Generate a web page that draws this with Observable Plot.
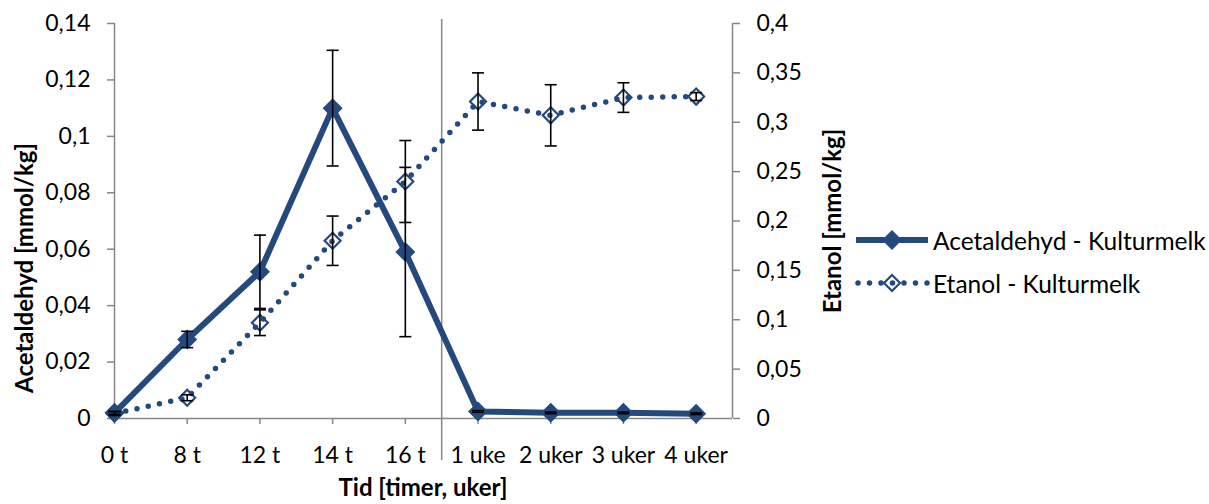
<!DOCTYPE html>
<html>
<head>
<meta charset="utf-8">
<script src="https://cdn.jsdelivr.net/npm/d3@7"></script>
<script src="https://cdn.jsdelivr.net/npm/@observablehq/plot@0.6"></script>
<style>
  html, body { margin: 0; padding: 0; background: #fff; }
  #chart { width: 1209px; height: 504px; overflow: hidden; }
  #chart svg { display: block; }
</style>
</head>
<body>
<div id="chart"></div>
<script>
// ---- data ----
const categories = ["0 t", "8 t", "12 t", "14 t", "16 t", "1 uke", "2 uker", "3 uker", "4 uker"];
const acetaldehyd    = [0.002, 0.028, 0.052, 0.110, 0.059, 0.0025, 0.002, 0.002, 0.0017];
const acetaldehydErr = [0.0005, 0.0029, 0.013, 0.0205, 0.030, 0.0003, 0.0003, 0.0003, 0.0003];
const etanol         = [0.005, 0.021, 0.097, 0.180, 0.240, 0.321, 0.307, 0.325, 0.326];
const etanolErr      = [0.002, 0.003, 0.013, 0.025, 0.0415, 0.029, 0.031, 0.015, 0.004];
const leftTicks  = [0, 0.02, 0.04, 0.06, 0.08, 0.1, 0.12, 0.14];
const rightTicks = [0, 0.05, 0.1, 0.15, 0.2, 0.25, 0.3, 0.35, 0.4];
const seriesNames = ["Acetaldehyd - Kulturmelk", "Etanol - Kulturmelk"];
const leftTitle = "Acetaldehyd [mmol/kg]";
const rightTitle = "Etanol [mmol/kg]";
const xTitle = "Tid [timer, uker]";
const separatorAfter = 4; // vertical divider between "16 t" and "1 uke"

// ---- styling ----
const BLUE = "#24497d";
const GRAY = "#868686";
const FONT = "Lato, 'Open Sans', sans-serif";
const W = 1209, H = 504;
const leftMax = 0.14, rightMax = 0.4;
const k = leftMax / rightMax; // map right axis values into left-axis units

const fmt = v => v === 0 ? "0" : String(+v.toFixed(3)).replace(".", ",");

const rows = categories.map((c, i) => ({
  i, c,
  a: acetaldehyd[i], ae: acetaldehydErr[i],
  e: etanol[i] * k, ee: etanolErr[i] * k
}));

const diamond = {
  draw(ctx, size) {
    const h = Math.sqrt(size / Math.PI);
    ctx.moveTo(0, -h); ctx.lineTo(h, 0); ctx.lineTo(0, h); ctx.lineTo(-h, 0); ctx.closePath();
  }
};
const cap = {
  draw(ctx, size) {
    const h = Math.sqrt(size / Math.PI);
    ctx.moveTo(-h, 0); ctx.lineTo(h, 0);
  }
};

const errA = rows.flatMap(d => [{i: d.i, y: d.a - d.ae}, {i: d.i, y: d.a + d.ae}]);
const errE = rows.flatMap(d => [{i: d.i, y: d.e - d.ee}, {i: d.i, y: d.e + d.ee}]);

const chart = Plot.plot({
  width: W, height: H,
  marginLeft: 114, marginRight: W - 732, marginTop: 23, marginBottom: H - 418,
  style: { fontFamily: FONT, fontSize: "23px", color: "#000", background: "#fff", overflow: "visible" },
  x: { domain: [0, categories.length - 0.5], axis: null },
  y: { domain: [0, leftMax], axis: null },
  marks: [
    // axis lines
    Plot.ruleY([0], { stroke: GRAY, strokeWidth: 1.5 }),
    Plot.ruleX([0], { stroke: GRAY, strokeWidth: 1.5 }),
    Plot.ruleX([categories.length - 0.5], { stroke: GRAY, strokeWidth: 1.5 }),
    // divider
    Plot.ruleX([separatorAfter + 0.5], { y1: -0.0149, y2: 0.1414, stroke: GRAY, strokeWidth: 1.5 }),
    // x axis
    Plot.axisX({
      ticks: d3.range(categories.length), tickFormat: i => categories[i],
      tickSize: 6, tickPadding: 22, stroke: GRAY, strokeWidth: 1.5, fill: "#000", label: null
    }),
    // left y axis
    Plot.axisY({
      anchor: "left", ticks: leftTicks, tickFormat: fmt,
      tickSize: 7, tickPadding: 17, stroke: GRAY, strokeWidth: 1.5, fill: "#000", label: null
    }),
    // right y axis (etanol)
    Plot.axisY({
      anchor: "right", ticks: rightTicks.map(t => t * k), tickFormat: t => fmt(+(t / k).toFixed(3)),
      tickSize: 7, tickPadding: 17, stroke: GRAY, strokeWidth: 1.5, fill: "#000", label: null
    }),
    // lines
    Plot.line(rows, { x: "i", y: "a", stroke: BLUE, strokeWidth: 6, strokeLinejoin: "miter" }),
    Plot.line(rows, { x: "i", y: "e", stroke: BLUE, strokeWidth: 5.5, strokeDasharray: "0 11.5", strokeLinecap: "round" }),
    // markers
    Plot.dot(rows, { x: "i", y: "a", symbol: diamond, r: 10, fill: BLUE, stroke: "none" }),
    Plot.dot(rows, { x: "i", y: "e", symbol: diamond, r: 8, fill: "none", stroke: BLUE, strokeWidth: 2.2 }),
    // error bars
    Plot.ruleX(rows, { x: "i", y1: d => d.a - d.ae, y2: d => d.a + d.ae, stroke: "#000", strokeWidth: 1.6 }),
    Plot.dot(errA, { x: "i", y: "y", symbol: cap, r: 6, fill: "none", stroke: "#000", strokeWidth: 1.6 }),
    Plot.ruleX(rows, { x: "i", y1: d => d.e - d.ee, y2: d => d.e + d.ee, stroke: "#000", strokeWidth: 1.6 }),
    Plot.dot(errE, { x: "i", y: "y", symbol: cap, r: 6, fill: "none", stroke: "#000", strokeWidth: 1.6 })
  ]
});

document.getElementById("chart").appendChild(chart);

// ---- titles and legend (real SVG text) ----
const svg = d3.select(chart);
const titleStyle = s => s.attr("font-family", FONT).attr("font-weight", "bold").attr("font-size", "24px").attr("fill", "#000");

svg.append("text").call(titleStyle)
  .attr("transform", "translate(23,268) rotate(-90)")
  .attr("text-anchor", "middle").attr("dominant-baseline", "central")
  .text(leftTitle);
svg.append("text").call(titleStyle)
  .attr("transform", "translate(831,221) rotate(-90)")
  .attr("text-anchor", "middle").attr("dominant-baseline", "central")
  .text(rightTitle);
svg.append("text").call(titleStyle)
  .attr("x", 423).attr("y", 496).attr("text-anchor", "middle")
  .text(xTitle);

const legend = svg.append("g").attr("transform", "translate(856,0)");
const items = [
  { name: seriesNames[0], y: 240, dashed: false },
  { name: seriesNames[1], y: 283, dashed: true }
];
items.forEach(it => {
  const g = legend.append("g").attr("transform", `translate(0,${it.y})`);
  if (!it.dashed) {
    g.append("line").attr("x1", 0).attr("x2", 72).attr("stroke", BLUE).attr("stroke-width", 6);
    g.append("path").attr("d", "M36,-10L46,0L36,10L26,0Z").attr("fill", BLUE);
  } else {
    g.append("line").attr("x1", 2).attr("x2", 72).attr("stroke", BLUE).attr("stroke-width", 5.5)
      .attr("stroke-dasharray", "0 11.5").attr("stroke-linecap", "round");
    g.append("path").attr("d", "M36,-8L44,0L36,8L28,0Z").attr("fill", "none").attr("stroke", BLUE).attr("stroke-width", 2.2);
  }
  g.append("text").attr("x", 77).attr("y", 0).attr("dominant-baseline", "central")
    .attr("text-anchor", "start")
    .attr("font-family", FONT).attr("font-size", "24.5px").attr("fill", "#000")
    .text(it.name);
});
</script>
</body>
</html>
